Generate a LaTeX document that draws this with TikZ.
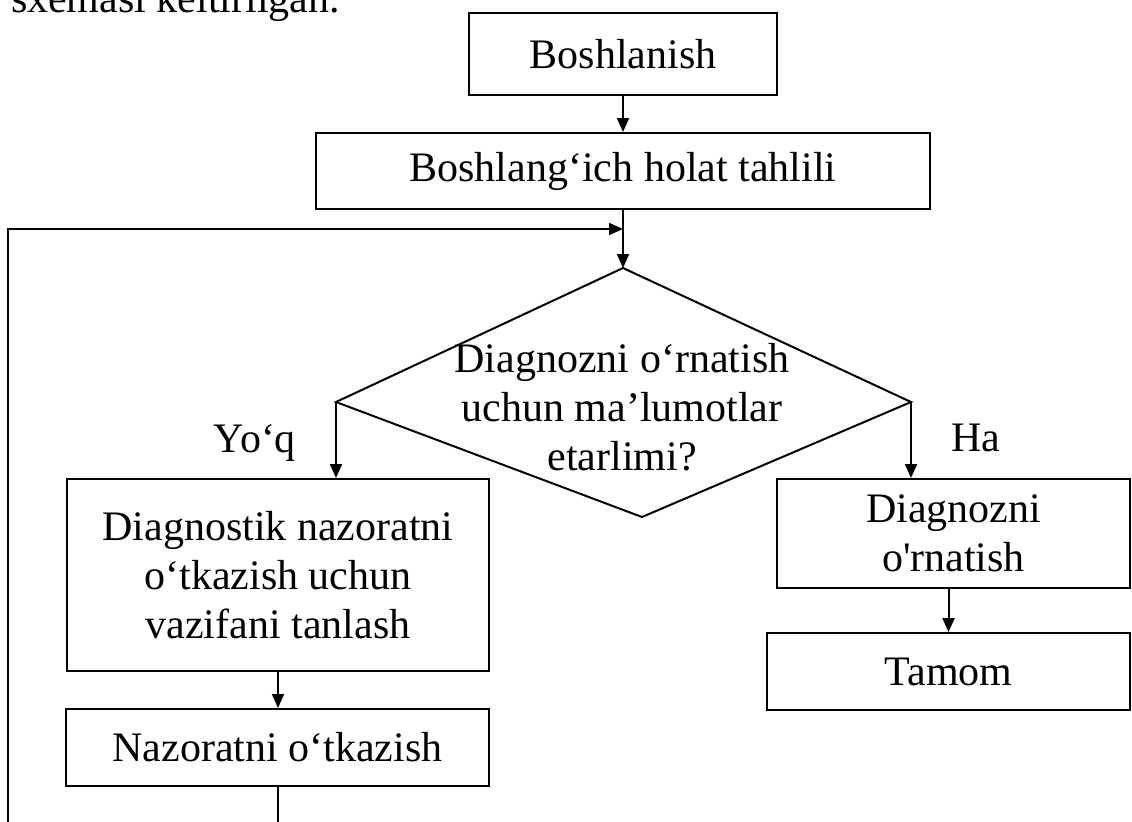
\documentclass[tikz,border=0pt]{standalone}
\usepackage{fontspec}
\newfontfamily\uzfont{Liberation Serif}
\usetikzlibrary{arrows.meta}

\begin{document}
\begin{tikzpicture}[
  x=0.5pt, y=-0.5pt,
  line width=1pt,
  txt/.style={inner sep=0pt, align=center, font=\uzfont\fontsize{21}{24.5}\selectfont},
  box/.style={txt, rectangle, draw},
  arr/.style={-{Triangle[length=7pt,width=6pt]}}
]
\useasboundingbox (0,0) rectangle (1132,821);
\clip (0,0) rectangle (1132,821);

\node[txt, anchor=base west] (cap) at (10,12) {sxemasi keltirilgan.};
\node[box, minimum width=154pt, minimum height=41pt] (start) at (623,54) {Boshlanish};
\node[box, minimum width=307pt, minimum height=38pt] (anal) at (623,171) {Boshlang‘ich holat tahlili};
\node[box, minimum width=211pt, minimum height=96pt] (task) at (278,575) {Diagnostik nazoratni\\o‘tkazish uchun\\vazifani tanlash};
\node[box, minimum width=211.5pt, minimum height=38.5pt] (check) at (277.5,747.5) {Nazoratni o‘tkazish};
\node[box, minimum width=176.5pt, minimum height=54.5pt] (diag) at (953.5,533.5) {Diagnozni\\o'rnatish};
\node[box, minimum width=181.5pt, minimum height=38.5pt] (fin) at (948.5,671.5) {Tamom};

\coordinate (top) at (623,268);
\coordinate (yoq) at (336,402);
\coordinate (ha) at (911,402);
\coordinate (bot) at (642,517);
\draw (top) -- (yoq) -- (bot) -- (ha) -- cycle;
\node[txt] (quest) at (622,407) {Diagnozni o‘rnatish\\uchun ma’lumotlar\\etarlimi?};
\node[txt, anchor=base east] (no) at (297,452) {Yo‘q};
\node[txt, anchor=base west] (yes) at (950,451) {Ha};

\coordinate (join) at (623,229);
\coordinate (back) at (8,850);

\draw[arr] (start) -- (anal);
\draw[arr] (anal) -- (top);
\draw[arr] (check.south) |- (back) |- (join);
\draw[arr] (yoq) -- (yoq |- task.north);
\draw[arr] (ha) -- (ha |- diag.north);
\draw[arr] (task.south) -- (task.south |- check.north);
\draw[arr] (fin.north |- diag.south) -- (fin.north);
\end{tikzpicture}
\end{document}
